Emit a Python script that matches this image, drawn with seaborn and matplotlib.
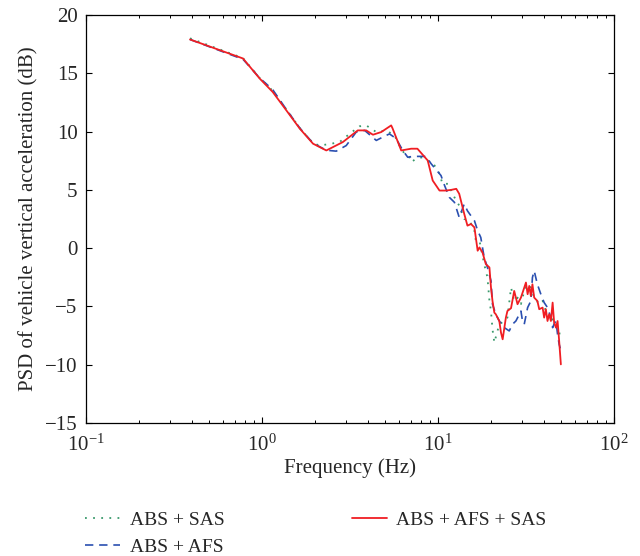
import numpy as np
import pandas as pd
import matplotlib
matplotlib.use("Agg")
import matplotlib.pyplot as plt
import seaborn as sns

# ---------------- data ----------------
freq_sas = [0.39, 0.78, 0.97, 1.15, 1.375, 1.64, 1.95, 2.13, 2.48, 2.76, 3.14, 3.58, 3.91,
            4.46, 5.08, 5.66, 6.04, 6.45, 6.88, 7.04, 7.51, 8.19, 9.55, 10.2, 10.6, 11.4,
            12.4, 13.2, 14.1, 15.1, 16.1, 16.4, 17.2, 18.3, 19.1, 19.6, 20.0, 20.4, 20.9,
            22.3, 23.8, 24.8, 26.0, 27.1, 28.3, 29.6, 30.9, 32.3, 33.7, 35.2, 37.6, 39.3,
            41.0, 42.8, 44.8, 46.8, 48.8, 49.2, 49.9]
psd_sas = [18.0, 16.3, 14.6, 13.5, 11.9, 10.3, 9.0, 8.8, 8.96, 9.1, 9.8, 10.45, 10.53,
           9.96, 10.1, 9.67, 8.8, 8.1, 7.8, 7.38, 7.67, 7.8, 7.1, 6.38, 5.52, 5.52,
           4.36, 3.65, 2.5, 2.36, 1.5, 0.64, 0.64, -1.37, -2.52, -4.53, -5.39, -6.96, -8.1,
           -6.53, -6.25, -5.96, -3.38, -4.53, -4.24, -4.8, -3.67, -3.1, -3.38, -4.24, -4.81, -4.53,
           -5.39, -6.25, -6.1, -6.53, -7.1, -7.5, -7.6]

freq_afs = [0.39, 0.78, 0.97, 1.15, 1.375, 1.64, 1.95, 2.32, 2.64, 3.01, 3.43, 3.83, 4.46,
            4.86, 5.30, 5.78, 6.31, 6.73, 7.19, 8.56, 9.14, 10.4, 10.9, 11.6, 12.4, 13.2,
            14.1, 14.7, 16.1, 16.8, 17.5, 18.3, 19.1, 20.0, 20.4, 21.3, 22.3, 23.8, 25.4,
            26.5, 27.7, 29.0, 29.6, 30.2, 30.9, 32.3, 33.7, 34.4, 35.2, 36.7, 38.4, 40.1,
            41.9, 43.8, 44.8, 45.7, 46.8, 47.8, 48.8, 49.9]
psd_afs = [17.9, 16.2, 14.6, 13.6, 11.9, 10.3, 9.0, 8.4, 8.32, 8.8, 9.96, 10.1, 9.24,
           9.53, 9.8, 9.4, 8.38, 7.8, 7.87, 7.87, 7.24, 6.23, 5.37, 4.36, 3.93, 2.64,
           3.79, 3.2, 2.36, 1.5, 0.92, -0.8, -1.66, -2.8, -4.81, -5.67, -6.25, -6.82, -7.1,
           -6.53, -6.25, -5.67, -5.4, -6.25, -6.53, -5.1, -4.53, -2.52, -1.95, -3.1, -3.95, -4.67,
           -5.1, -5.96, -6.82, -6.5, -6.25, -7.4, -8.25, -8.8]

freq_all = [0.39, 0.78, 0.97, 1.15, 1.375, 1.64, 1.95, 2.32, 2.88, 3.5, 3.91, 4.27, 4.76,
            5.42, 5.51, 6.18, 7.04, 7.64, 8.74, 9.33, 10.2, 11.1, 11.9, 12.7, 13.2, 14.1,
            14.7, 15.4, 16.1, 16.8, 17.2, 17.9, 18.7, 19.6, 20.0, 20.4, 20.9, 21.3, 22.3,
            22.8, 23.3, 24.3, 24.8, 26.0, 27.1, 28.3, 29.6, 31.6, 32.3, 33.0, 33.7, 34.4,
            35.2, 36.7, 37.6, 39.3, 40.1, 41.0, 41.9, 42.8, 43.8, 44.8, 45.7, 46.8, 47.8,
            48.8, 49.9]
psd_all = [17.9, 16.27, 14.55, 13.4, 11.82, 10.25, 8.96, 8.38, 9.1, 10.1, 10.1, 9.73, 9.96,
           10.53, 10.3, 8.38, 8.53, 8.53, 7.52, 5.8, 4.94, 4.94, 5.0, 5.09, 4.66, 2.93,
           1.93, 2.07, 1.78, -0.22, 0.06, -0.37, -1.37, -1.66, -3.38, -4.53, -5.53, -5.67, -6.25,
           -7.25, -7.82, -5.96, -5.39, -5.15, -3.67, -4.81, -4.24, -2.95, -3.95, -3.24, -4.1, -3.1,
           -4.24, -4.53, -5.24, -5.1, -5.96, -5.24, -6.25, -5.67, -6.25, -4.67, -6.4, -6.82, -6.25,
           -7.97, -9.97]

labels = ["ABS + SAS", "ABS + AFS", "ABS + AFS + SAS"]
y_ticks = [-15, -10, -5, 0, 5, 10, 15, 20]

# ---------------- style ----------------
sns.set_style("ticks")
plt.rcParams["font.family"] = ["Liberation Serif", "DejaVu Serif"]
plt.rcParams["mathtext.fontset"] = "stix"
plt.rcParams["xtick.direction"] = "in"
plt.rcParams["ytick.direction"] = "in"

fig = plt.figure(figsize=(6.4, 5.56), dpi=100)
ax = fig.add_axes([86/640, 1-423/556, (614-86)/640, (423-15)/556])

df_sas = pd.DataFrame({"f": freq_sas, "v": psd_sas})
df_afs = pd.DataFrame({"f": freq_afs, "v": psd_afs})
df_all = pd.DataFrame({"f": freq_all, "v": psd_all})

sns.lineplot(data=df_sas, x="f", y="v", ax=ax, color="#3a9a6c", linestyle=(0, (1, 3.5)),
             linewidth=1.3, label=labels[0], sort=False)
sns.lineplot(data=df_afs, x="f", y="v", ax=ax, color="#2a4fb0", linestyle=(0, (5, 3.5)),
             linewidth=1.2, label=labels[1], sort=False)
sns.lineplot(data=df_all, x="f", y="v", ax=ax, color="#f01e23", linestyle="-",
             linewidth=1.3, label=labels[2], sort=False)

ax.set_xscale("log")
ax.set_xlim(0.1, 100)
ax.set_ylim(-15, 20)
ax.set_yticks(y_ticks)
ax.set_xlabel("Frequency (Hz)", fontsize=15, labelpad=2)
ax.set_ylabel("PSD of vehicle vertical acceleration (dB)", fontsize=15, labelpad=5)
ax.tick_params(axis="both", which="both", top=True, right=True, labelsize=15, color="black")
ax.tick_params(axis="x", which="major", pad=8)
ax.tick_params(axis="y", which="major", pad=6)
ax.tick_params(which="major", length=4, width=0.8)
ax.tick_params(which="minor", length=2.5, width=0.7)
for s in ax.spines.values():
    s.set_linewidth(0.9)
    s.set_color("black")

ax.legend(loc="upper left", bbox_to_anchor=(-0.002, -0.217), ncol=2, frameon=False,
          fontsize=14, handlelength=1.8, columnspacing=6.55, labelspacing=0.45,
          handletextpad=0.5, borderaxespad=0, borderpad=0)

fig.savefig("out.png", dpi=100, facecolor="white")
